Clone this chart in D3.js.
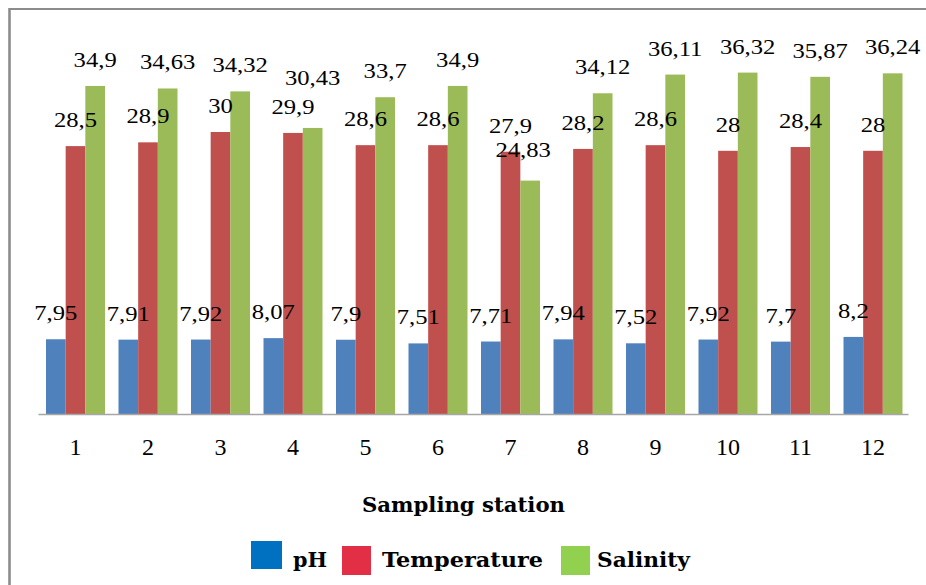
<!DOCTYPE html>
<html>
<head>
<meta charset="utf-8">
<script src="https://cdn.jsdelivr.net/npm/d3@7.9.0/dist/d3.min.js"></script>
<style>
  html, body { margin: 0; padding: 0; background: #fff; }
  svg { display: block; }
  .serif { font-family: "Liberation Serif", Tinos, "Times New Roman", Times, serif; }
  .bold { font-family: "DejaVu Serif", serif; font-weight: bold; }
</style>
</head>
<body>
<svg id="chart" width="926" height="585"></svg>
<script>
// Data
const stations = ["1", "2", "3", "4", "5", "6", "7", "8", "9", "10", "11", "12"];
const series = ["pH", "Temperature", "Salinity"];
const phValues = [7.95, 7.91, 7.92, 8.07, 7.9, 7.51, 7.71, 7.94, 7.52, 7.92, 7.7, 8.2];
const tempValues = [28.5, 28.9, 30, 29.9, 28.6, 28.6, 27.9, 28.2, 28.6, 28, 28.4, 28];
const salinityValues = [34.9, 34.63, 34.32, 30.43, 33.7, 34.9, 24.83, 34.12, 36.11, 36.32, 35.87, 36.24];

// Styling
const barColors = { pH: "#4F81BD", Temperature: "#C0504D", Salinity: "#9BBB59" };
const legendColors = { pH: "#0070C0", Temperature: "#E32F45", Salinity: "#92D050" };

// hand-moved data labels (Excel pushed these to avoid overlap)
const labelNudge = { "Salinity-4": [0, -24], "Salinity-7": [-7, -5] };

const rows = stations.map((s, i) => ({
  station: s,
  pH: phValues[i],
  Temperature: tempValues[i],
  Salinity: salinityValues[i],
}));

const svg = d3.select("#chart");

// frame (only top and left edges are visible in the original crop)
svg.append("line")
  .attr("x1", 9.5).attr("x2", 926).attr("y1", 9).attr("y2", 9)
  .attr("stroke", "#8c8c8c").attr("stroke-width", 2);
svg.append("line")
  .attr("x1", 9.5).attr("x2", 9.5).attr("y1", 8).attr("y2", 585)
  .attr("stroke", "#8c8c8c").attr("stroke-width", 2.6);

// scales
const x = d3.scaleBand().domain(stations).range([38, 908]);
const x1 = d3.scaleBand().domain(series).range([8, 67]);
const y = d3.scaleLinear().domain([0, 40]).range([414, 38]);

// bars
const groups = svg.append("g")
  .selectAll("g")
  .data(rows)
  .join("g")
  .attr("transform", (d) => `translate(${x(d.station)},0)`);

groups.selectAll("rect")
  .data((d) => series.map((k) => ({ key: k, value: d[k], station: d.station })))
  .join("rect")
  .attr("x", (d) => x1(d.key))
  .attr("width", x1.bandwidth())
  .attr("y", (d) => y(d.value))
  .attr("height", (d) => y(0) - y(d.value))
  .attr("fill", (d) => barColors[d.key]);

// data labels
groups.selectAll("text")
  .data((d) => series.map((k) => ({ key: k, value: d[k], station: d.station })))
  .join("text")
  .attr("class", "serif")
  .attr("transform", (d) => {
    const n = labelNudge[d.key + "-" + d.station] || [0, 0];
    const cx = x1(d.key) + x1.bandwidth() / 2 + n[0];
    const cy = y(d.value) - 19 + n[1];
    return `translate(${cx},${cy}) scale(1.12,1)`;
  })
  .attr("text-anchor", "middle")
  .style("font-size", "22px")
  .attr("fill", "#000")
  .text((d) => String(d.value).replace(".", ","));

// x axis
const xAxis = svg.append("g")
  .attr("transform", `translate(0,${y(0)})`)
  .call(d3.axisBottom(x).tickSize(0).tickPadding(0));
xAxis.attr("font-family", null).attr("font-size", null);
xAxis.select(".domain").attr("stroke", "#a6a6a6").attr("stroke-width", 1.5);
xAxis.selectAll(".tick")
  .attr("transform", (d) => `translate(${x(d) + 37.5},0)`);
xAxis.selectAll(".tick text")
  .attr("class", "serif")
  .attr("y", 41)
  .attr("dy", null)
  .style("font-size", "24px")
  .attr("fill", "#000");

// axis title
svg.append("text")
  .attr("class", "bold")
  .attr("x", 463.5)
  .attr("y", 512)
  .attr("text-anchor", "middle")
  .style("font-size", "21px")
  .attr("textLength", 203)
  .attr("lengthAdjust", "spacingAndGlyphs")
  .text("Sampling station");

// legend
const legendItems = [
  { key: "pH", sx: 251, sy: 541, tx: 293, w: 34 },
  { key: "Temperature", sx: 342, sy: 546, tx: 382, w: 161 },
  { key: "Salinity", sx: 561, sy: 546, tx: 597, w: 93 },
];
const legend = svg.append("g");
legend.selectAll("rect")
  .data(legendItems)
  .join("rect")
  .attr("x", (d) => d.sx)
  .attr("y", (d) => d.sy)
  .attr("width", (d) => (d.key === "pH" ? 31 : 29))
  .attr("height", (d) => (d.key === "pH" ? 28 : 29))
  .attr("fill", (d) => legendColors[d.key]);
legend.selectAll("text")
  .data(legendItems)
  .join("text")
  .attr("class", "bold")
  .attr("x", (d) => d.tx)
  .attr("y", 567)
  .style("font-size", "21px")
  .attr("textLength", (d) => d.w)
  .attr("lengthAdjust", "spacingAndGlyphs")
  .text((d) => d.key);
</script>
</body>
</html>
